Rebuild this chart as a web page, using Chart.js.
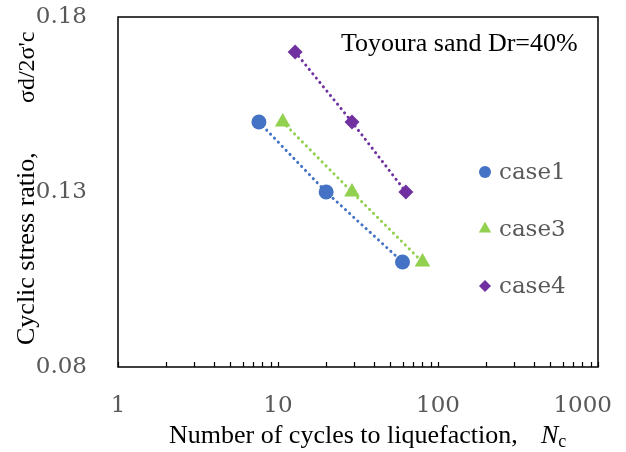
<!DOCTYPE html>
<html>
<head>
<meta charset="utf-8">
<script src="https://cdn.jsdelivr.net/npm/chart.js@4.4.0/dist/chart.umd.min.js"></script>
<style>
  html, body { margin: 0; padding: 0; background: #fff; }
  #wrap { width: 626px; height: 452px; }
</style>
</head>
<body>
<div id="wrap"><canvas id="c" width="626" height="452"></canvas></div>
<script>
// данные с графика
const case1N = [7.6, 20, 60];
const case1CSR = [0.15, 0.13, 0.11];
const case3N = [10.7, 29, 80];
const case3CSR = [0.15, 0.13, 0.11];
const case4N = [12.8, 29, 63];
const case4CSR = [0.17, 0.15, 0.13];

const xTicks = [1, 2, 3, 4, 5, 6, 7, 8, 9, 10, 20, 30, 40, 50, 60, 70, 80, 90, 100,
                200, 300, 400, 500, 600, 700, 800, 900, 1000];
const xLabels = [1, 10, 100, 1000];
const yTicks = [0.08, 0.13, 0.18];

const labelFont = '"DejaVu Serif", serif';
const textFont = '"Liberation Serif", "Times New Roman", serif';

function pts(xs, ys) {
  return xs.map((x, i) => ({ x: x, y: ys[i] }));
}

function series(label, xs, ys, color, style, r) {
  return {
    label: label,
    data: pts(xs, ys),
    showLine: true,
    borderColor: color,
    backgroundColor: color,
    borderWidth: 3,
    borderDash: [0.1, 5.5],
    borderCapStyle: 'round',
    pointStyle: style,
    pointRadius: r,
    pointHoverRadius: r,
    pointBorderWidth: 0,
    pointBackgroundColor: color
  };
}

function noPad(scale) {
  scale.paddingTop = 0;
  scale.paddingBottom = 0;
  scale.paddingLeft = 0;
  scale.paddingRight = 0;
}

// рамка, засечки, подписи осей и легенда
const decor = {
  id: 'decor',
  afterDraw(chart) {
    const ctx = chart.ctx;
    const a = chart.chartArea;
    const xs = chart.scales.x;
    ctx.save();
    ctx.strokeStyle = '#000';
    ctx.lineWidth = 1.5;
    ctx.strokeRect(a.left, a.top, a.right - a.left, a.bottom - a.top);

    ctx.lineWidth = 1.2;
    xTicks.forEach(v => {
      const px = Math.round(xs.getPixelForValue(v)) + 0.5;
      ctx.beginPath();
      ctx.moveTo(px, a.bottom);
      ctx.lineTo(px, a.bottom - 5);
      ctx.stroke();
    });

    // подписи делений X
    ctx.font = '23px ' + labelFont;
    ctx.fillStyle = '#595959';
    ctx.textBaseline = 'middle';
    ctx.textAlign = 'center';
    xLabels.forEach(v => {
      const w = ctx.measureText(String(v)).width;
      let px = xs.getPixelForValue(v);
      px = Math.min(px, 612 - w / 2);
      ctx.fillText(String(v), px, 406);
    });

    // подпись оси X
    ctx.fillStyle = '#000';
    ctx.textBaseline = 'alphabetic';
    ctx.textAlign = 'left';
    const yb = 443;
    ctx.font = '26px ' + textFont;
    ctx.fillText('Number of cycles to liquefaction,', 169, yb, 356);
    ctx.font = 'italic 26px ' + textFont;
    ctx.fillText('N', 541, yb);
    const wn = ctx.measureText('N').width;
    ctx.font = '18px ' + textFont;
    ctx.fillText('c', 541 + wn, yb + 4);

    // подпись оси Y
    ctx.save();
    ctx.translate(34, 0);
    ctx.rotate(-Math.PI / 2);
    ctx.font = '26px ' + textFont;
    ctx.textAlign = 'left';
    ctx.fillText('Cyclic stress ratio,', -345, 0, 205);
    ctx.font = '24px ' + textFont;
    ctx.fillText('\u03c3d/2\u03c3\'c', -103, 0);
    ctx.restore();

    // надпись
    ctx.font = '26px ' + textFont;
    ctx.textAlign = 'left';
    ctx.fillText('Toyoura sand Dr=40%', 341, 51, 243);

    // легенда
    const rows = [172, 229, 286];
    ctx.font = '23px ' + labelFont;
    ctx.textBaseline = 'middle';
    chart.data.datasets.forEach((ds, i) => {
      ctx.fillStyle = ds.backgroundColor;
      Chart.helpers.drawPoint(ctx, {
        pointStyle: ds.pointStyle,
        radius: ds.pointRadius * 0.8,
        borderWidth: 0
      }, 485, rows[i]);
      ctx.fillStyle = '#595959';
      ctx.fillText(ds.label, 499, rows[i] + 1);
    });
    ctx.restore();
  }
};

new Chart(document.getElementById('c'), {
  type: 'scatter',
  data: {
    datasets: [
      series('case1', case1N, case1CSR, '#4472C4', 'circle', 7.5),
      series('case3', case3N, case3CSR, '#92D050', 'triangle', 9),
      series('case4', case4N, case4CSR, '#7030A0', 'rectRot', 7.5)
    ]
  },
  options: {
    responsive: false,
    animation: false,
    layout: { padding: { left: 0, right: 28, top: 17, bottom: 0 } },
    plugins: {
      legend: { display: false },
      tooltip: { enabled: false }
    },
    scales: {
      x: {
        type: 'logarithmic',
        min: 1,
        max: 1000,
        afterBuildTicks(scale) {
          scale.ticks = xTicks.map(v => ({ value: v }));
        },
        afterFit(scale) { scale.height = 85; noPad(scale); },
        grid: { display: false, drawTicks: false },
        border: { display: false },
        ticks: { display: false }
      },
      y: {
        min: 0.08,
        max: 0.18,
        afterBuildTicks(scale) {
          scale.ticks = yTicks.map(v => ({ value: v }));
        },
        afterFit(scale) { scale.width = 118; noPad(scale); },
        grid: { display: false, drawTicks: false },
        border: { display: false },
        ticks: {
          padding: 31,
          color: '#595959',
          font: { family: labelFont, size: 23 },
          callback: v => v.toFixed(2)
        }
      }
    }
  },
  plugins: [decor]
});
</script>
</body>
</html>
